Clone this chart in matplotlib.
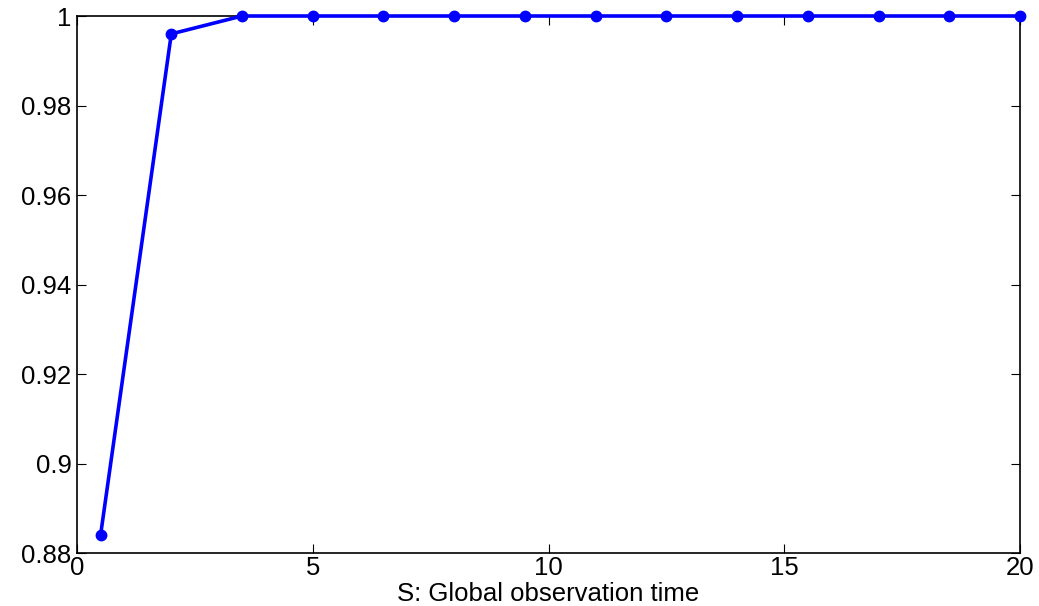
import numpy as np
import matplotlib
matplotlib.use('Agg')
import matplotlib.pyplot as plt
from matplotlib.transforms import blended_transform_factory

# observation times and corresponding success ratio
obs_time = [0.5, 2, 3.5, 5, 6.5, 8, 9.5, 11, 12.5, 14, 15.5, 17, 18.5, 20]
ratio = [0.884, 0.996, 1, 1, 1, 1, 1, 1, 1, 1, 1, 1, 1, 1]

x_ticks = [0, 5, 10, 15, 20]
y_ticks = [0.88, 0.9, 0.92, 0.94, 0.96, 0.98, 1]
y_labels = ['0.88', '0.9', '0.92', '0.94', '0.96', '0.98', '1']

plt.rcParams['font.family'] = ['Liberation Sans', 'DejaVu Sans']

fig = plt.figure(figsize=(10.39, 6.06), dpi=100)
ax = fig.add_axes([77/1039, 1 - 553/606, 943/1039, 537/606])

ax.plot(obs_time, ratio, color='#0000ff', linewidth=2.6, marker='o',
        markersize=7.5, clip_on=False, zorder=5)

ax.set_xlim(0, 20)
ax.set_ylim(0.88, 1)
ax.set_xticks(x_ticks)
ax.set_xticklabels([str(t) for t in x_ticks])
ax.set_yticks(y_ticks)
ax.set_yticklabels(y_labels)
ax.tick_params(direction='in', length=6.5, width=0.8, labelsize=18.5,
               top=True, right=True)
ax.tick_params(axis='y', pad=4)
ax.tick_params(axis='x', pad=2)
for s in ax.spines.values():
    s.set_linewidth(1.2)

# label centred on the axes, sitting at the very bottom of the figure
ax.set_xlabel('S: Global observation time', fontsize=18.5, va='bottom')
ax.xaxis.set_label_coords(0.5, 0.0,
                          transform=blended_transform_factory(ax.transAxes, fig.transFigure))

fig.savefig('out.png', dpi=100)
